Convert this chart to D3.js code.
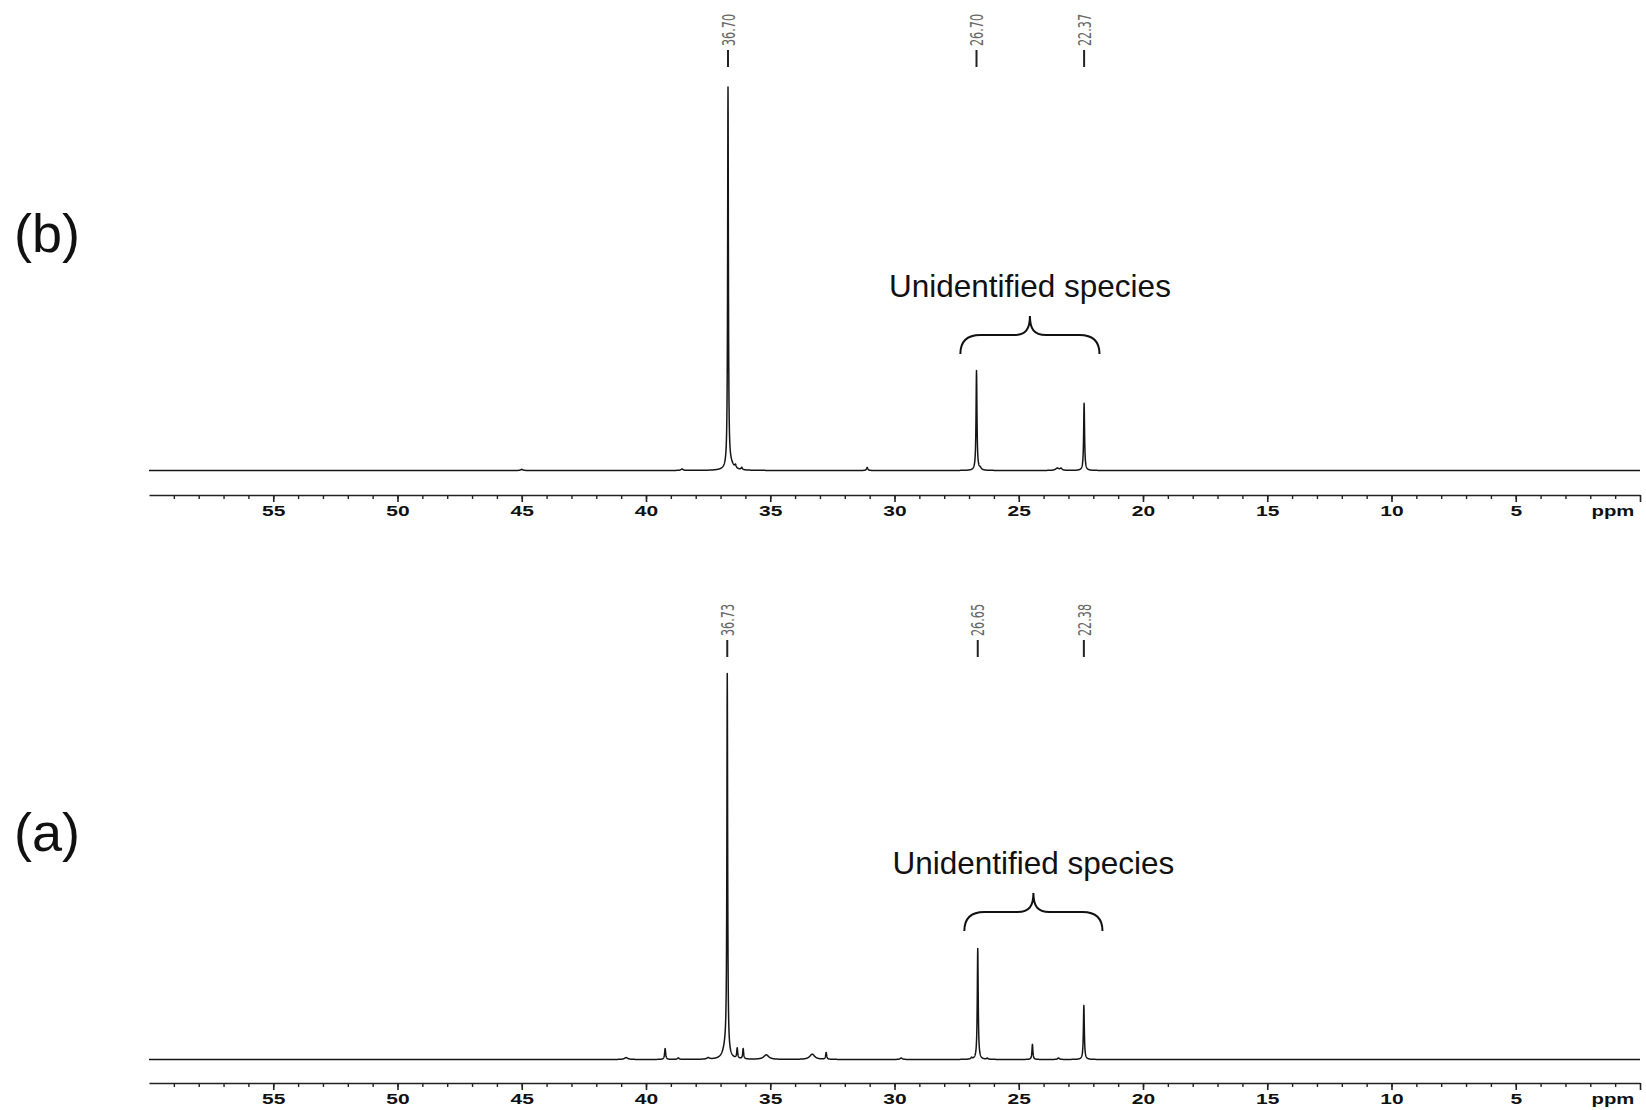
<!DOCTYPE html>
<html>
<head>
<meta charset="utf-8">
<script src="https://cdn.jsdelivr.net/npm/d3@7"></script>
<style>
  body { margin: 0; background: #fff; }
  svg { display: block; }
  .tick text { font-family: "Liberation Sans", Arial, sans-serif; font-weight: bold; }
</style>
</head>
<body>
<svg id="chart"></svg>
<script>
var width = 1646,
    height = 1110;

// ---- data ----
// spectrum (b): peak centres (ppm), heights (tallest = 100), half widths (ppm)
var peaksB_ppm   = [36.70, 36.60, 36.40, 36.15, 45.00, 38.55, 31.10, 26.70, 26.55, 23.45, 23.30, 22.37];
var peaksB_int   = [100,   1.5,   0.8,   0.6,   0.3,   0.4,   0.8,   26.3,  0.5,   0.6,   0.5,   17.7];
var peaksB_width = [0.018, 0.15,  0.03,  0.03,  0.05,  0.05,  0.03,  0.022, 0.05,  0.08,  0.05,  0.022];

// spectrum (a)
var peaksA_ppm   = [40.80, 39.23, 38.70, 37.50, 36.73, 36.80, 36.33, 36.09, 35.16, 33.31, 32.75, 29.73, 26.90, 26.65, 26.27, 24.45, 23.40, 22.38];
var peaksA_int   = [0.5,   2.9,   0.4,   0.4,   100,   3.0,   2.7,   2.7,   1.2,   1.4,   1.8,   0.4,   0.4,   29.4,  0.3,   4.0,   0.4,   14.3];
var peaksA_width = [0.08,  0.025, 0.04,  0.06,  0.018, 0.12,  0.022, 0.022, 0.12,  0.12,  0.025, 0.05,  0.03,  0.022, 0.03,  0.022, 0.04,  0.022];

// peak pick labels
var labelsB = [36.70, 26.70, 22.37];
var labelsA = [36.73, 26.65, 22.38];

// axis ticks
var majorTicks = [55, 50, 45, 40, 35, 30, 25, 20, 15, 10, 5];
var minorTicks = d3.range(59, 0, -1);
var unitLabel = "ppm";

// annotation
var annotText = "Unidentified species";
var braceB = [27.35, 21.75];
var braceA = [27.19, 21.63];

// ---- layout ----
var svg = d3.select('#chart')
            .attr('width', width)
            .attr('height', height);

var x = d3.scaleLinear().domain([60, 0]).range([149, 1640]);

var panels = [
  {tag: "(b)", ppm: peaksB_ppm, amp: peaksB_int, hw: peaksB_width, labels: labelsB, brace: braceB,
   base: 470.5, top: 91, axisY: 495, markText: 46, markTick: [50, 67], tagY: 252, textY: 297, braceY: [316, 335, 354]},
  {tag: "(a)", ppm: peaksA_ppm, amp: peaksA_int, hw: peaksA_width, labels: labelsA, brace: braceA,
   base: 1059.5, top: 682, axisY: 1083, markText: 636, markTick: [640, 657], tagY: 851, textY: 874, braceY: [893, 912, 931]}
];

panels.forEach(drawPanel);

function spectrum(p){
  // lorentzian line shape for every picked peak
  var xs = d3.range(60, -0.0001, -0.005).concat(p.ppm);
  xs.sort((a, b) => b - a);
  return xs.map(v => {
    var s = 0;
    for (var i = 0; i < p.ppm.length; i++) {
      var d = (v - p.ppm[i]) / p.hw[i];
      s += p.amp[i] / (1 + d * d);
    }
    return [v, s];
  });
}

function drawPanel(p){
  var y = d3.scaleLinear().domain([0, 100]).range([p.base, p.top]);
  var g = svg.append('g');

  var line = d3.line()
               .x(d => x(d[0]))
               .y(d => y(d[1]));

  g.append('path')
    .datum(spectrum(p))
    .attr('fill', 'none')
    .attr('stroke', '#151515')
    .attr('stroke-width', 1.5)
    .attr('stroke-linejoin', 'round')
    .attr('d', line);

  // minor ticks
  g.append('g')
    .attr('transform', 'translate(0,' + p.axisY + ')')
    .call(d3.axisBottom(x).tickValues(minorTicks).tickSize(4).tickSizeOuter(0).tickFormat(''))
    .call(a => a.selectAll('line').attr('stroke', '#222').attr('stroke-width', 1.4))
    .call(a => a.select('.domain').remove());

  // major ticks + labels (wide bold face, so stretch horizontally)
  g.append('g')
    .attr('transform', 'translate(0,' + p.axisY + ')')
    .call(d3.axisBottom(x).tickValues(majorTicks.concat([0])).tickSize(7).tickSizeOuter(0).tickPadding(4)
             .tickFormat(d => d === 0 ? '' : d))
    .call(a => a.select('.domain').attr('stroke', '#222').attr('stroke-width', 1.6))
    .call(a => a.selectAll('line').attr('stroke', '#222').attr('stroke-width', 1.6))
    .call(a => a.selectAll('text').attr('font-size', 14).attr('fill', '#111')
                .attr('transform', 'scale(1.5,1)'));

  g.append('text')
    .attr('transform', 'translate(1613,' + (p.axisY + 11) + ') scale(1.45,1)')
    .attr('dy', '0.71em')
    .attr('text-anchor', 'middle')
    .attr('font-family', '"Liberation Sans", Arial, sans-serif')
    .attr('font-weight', 'bold')
    .attr('font-size', 14)
    .attr('fill', '#111')
    .text(unitLabel);

  // peak pick labels
  var marks = g.selectAll('.mark')
               .data(p.labels)
               .enter()
               .append('g')
               .classed('mark', true);

  marks.append('text')
    .attr('transform', d => 'translate(' + x(d) + ',' + p.markText + ') rotate(-90)')
    .attr('dy', '0.37em')
    .attr('font-family', '"Liberation Sans Narrow", "DejaVu Sans Condensed", sans-serif')
    .attr('font-size', 18)
    .attr('textLength', 32)
    .attr('lengthAdjust', 'spacingAndGlyphs')
    .attr('fill', '#666')
    .text(d => d.toFixed(2));

  marks.append('line')
    .attr('x1', d => x(d)).attr('x2', d => x(d))
    .attr('y1', p.markTick[0]).attr('y2', p.markTick[1])
    .attr('stroke', '#222')
    .attr('stroke-width', 2);

  // panel tag
  g.append('text')
    .attr('x', 14)
    .attr('y', p.tagY)
    .attr('font-family', '"Liberation Sans", Arial, sans-serif')
    .attr('font-size', 54)
    .attr('fill', '#111')
    .text(p.tag);

  // brace + note
  var x0 = x(p.brace[0]), x1 = x(p.brace[1]), xm = (x0 + x1) / 2;
  var yA = p.braceY[0], yM = p.braceY[1], yE = p.braceY[2];
  var r = 20;
  var path = 'M' + x0 + ',' + yE +
             ' Q' + x0 + ',' + yM + ' ' + (x0 + r) + ',' + yM +
             ' L' + (xm - 16) + ',' + yM +
             ' C' + (xm - 4) + ',' + yM + ' ' + xm + ',' + (yM - 6) + ' ' + xm + ',' + yA +
             ' C' + xm + ',' + (yM - 6) + ' ' + (xm + 4) + ',' + yM + ' ' + (xm + 16) + ',' + yM +
             ' L' + (x1 - r) + ',' + yM +
             ' Q' + x1 + ',' + yM + ' ' + x1 + ',' + yE;
  g.append('path')
    .attr('d', path)
    .attr('fill', 'none')
    .attr('stroke', '#111')
    .attr('stroke-width', 2);

  g.append('text')
    .attr('x', xm)
    .attr('y', p.textY)
    .attr('text-anchor', 'middle')
    .attr('font-family', '"Liberation Sans", Arial, sans-serif')
    .attr('font-size', 31.5)
    .attr('fill', '#111')
    .text(annotText);
}
</script>
</body>
</html>
